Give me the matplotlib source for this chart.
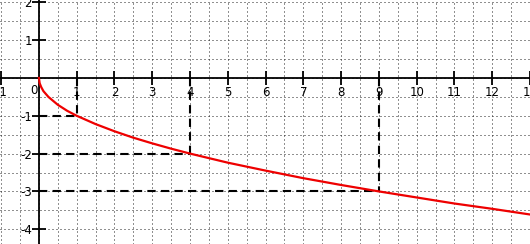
import numpy as np
import matplotlib
matplotlib.use("Agg")
import matplotlib.pyplot as plt
from matplotlib.ticker import MultipleLocator

# curve points (y = -sqrt(x) shape)
curve_x = [0, 0.02, 0.06, 0.12, 0.25, 0.5, 0.75, 1, 1.5, 2, 2.5, 3, 3.5, 4,
           5, 6, 7, 8, 9, 10, 11, 12, 13]
curve_y = [0, -0.14, -0.24, -0.35, -0.5, -0.71, -0.87, -1, -1.22, -1.41,
           -1.58, -1.73, -1.87, -2, -2.24, -2.45, -2.65, -2.83, -3, -3.16,
           -3.32, -3.46, -3.61]

# marked points with dashed guides
mark_x = [1, 4, 9]
mark_y = [-1, -2, -3]

x_ticks = [-1, 1, 2, 3, 4, 5, 6, 7, 8, 9, 10, 11, 12, 13]
y_ticks = [-4, -3, -2, -1, 1, 2]

plt.rcParams["axes.unicode_minus"] = False

fig = plt.figure(figsize=(5.30, 2.44), dpi=100)
ax = fig.add_axes([0, 0, 1, 1])
ax.set_xlim(-1.03, 13.0)
ax.set_ylim(-4.39, 2.06)

# dotted grid every half unit
ax.xaxis.set_minor_locator(MultipleLocator(0.5))
ax.yaxis.set_minor_locator(MultipleLocator(0.5))
ax.set_xticks(x_ticks)
ax.set_yticks(y_ticks)
ax.grid(which="both", color="#222222", linestyle=(0, (1, 3)), linewidth=0.72)
ax.set_axisbelow(True)

for s in ["top", "right"]:
    ax.spines[s].set_visible(False)
ax.spines["left"].set_position(("data", 0))
ax.spines["bottom"].set_position(("data", 0))
ax.spines["left"].set_linewidth(1.3)
ax.spines["bottom"].set_linewidth(1.3)

ax.tick_params(which="major", direction="inout", length=10, width=1.3,
               labelsize=8.5, colors="black")
ax.tick_params(axis="x", which="major", pad=1)
ax.tick_params(axis="y", which="major", pad=0)
ax.tick_params(which="minor", length=0)
ax.text(-0.14, -0.17, "0", ha="center", va="top", fontsize=8.5)

for mx, my in zip(mark_x, mark_y):
    ax.plot([mx, mx], [0, my], color="black", linewidth=1.5,
            dashes=(4, 2.5), zorder=3)
    ax.plot([0, mx], [my, my], color="black", linewidth=1.5,
            dashes=(4, 2.5), zorder=3)

ax.plot(curve_x, curve_y, color="#ee0000", linewidth=1.6, zorder=4)

fig.savefig("out.png", dpi=100)
